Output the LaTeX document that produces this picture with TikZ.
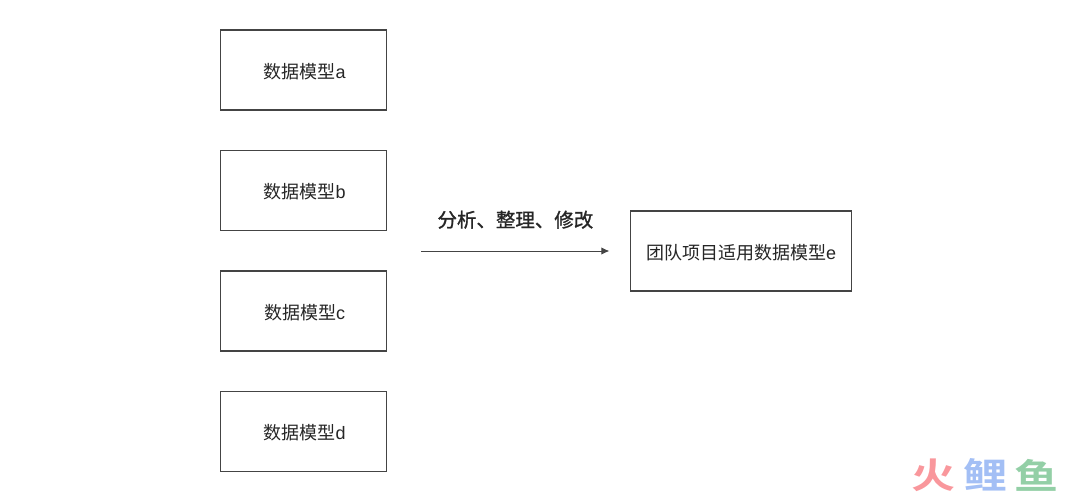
\documentclass[tikz,border=0pt]{standalone}
\usepackage{fontspec}
\usetikzlibrary{positioning,arrows.meta}
\setmainfont{Liberation Sans}
\newfontfamily\cjk{Noto Sans CJK SC}
\newfontfamily\cjkbold{Noto Sans CJK SC Bold}
\definecolor{boxline}{HTML}{444444}
\definecolor{wmred}{HTML}{F9979C}
\definecolor{wmblue}{HTML}{A3BFF5}
\definecolor{wmgreen}{HTML}{93CFA6}
\newcommand{\squash}[1]{\scalebox{1}[0.8]{#1}}
\tikzset{block/.style = {draw=boxline, fill=white, line width=0.9pt, rectangle, outer sep=0pt, inner sep=0pt, font=\fontsize{13.5}{16}\selectfont, text=black!85, text height=14.4pt, text depth=2pt, minimum height=60pt, minimum width=125pt},
         wblock/.style={block, minimum width=166pt},
         mark text/.style={font=\fontsize{33}{36}\cjkbold, inner sep=0pt}}

\begin{document}
\begin{tikzpicture}[x=0.75pt,y=-0.75pt]
        \useasboundingbox(0,0)rectangle(1080,499);
        \node[block](a)at(303.5,70){\hspace*{1.5pt}{\cjk 数据模型}a};
        \node[block,below=30.4pt of a](b){\hspace*{1.5pt}{\cjk 数据模型}b};
        \node[block,below=30.4pt of b](c){\hspace*{1.5pt}{\cjk 数据模型}c};
        \node[block,below=30.4pt of c](d){\hspace*{1.5pt}{\cjk 数据模型}d};
        \node[wblock](e)at(741,251){{\cjk 团队项目适用数据模型}e};
        \coordinate[left=15.7pt of e](end);
        \coordinate[left=141pt of end](start);
        \draw[-{Latex[length=6pt,width=5.5pt]},line width=0.75pt,boxline](start)--(end)node[midway,above=13pt,text=black!85,font=\fontsize{14.6}{16}\cjk\addfontfeature{FakeBold=1.2}]{分析、整理、修改};
        \node[mark text,text=wmred](huo)at(933.5,475){\squash{火}};
        \node[mark text,text=wmblue,right=7pt of huo.east,anchor=center,xshift=15pt](li){\squash{鲤}};
        \node[mark text,text=wmgreen,right=7pt of li.east,anchor=center,xshift=15pt](yu){\squash{鱼}};
    \end{tikzpicture}
\end{document}
